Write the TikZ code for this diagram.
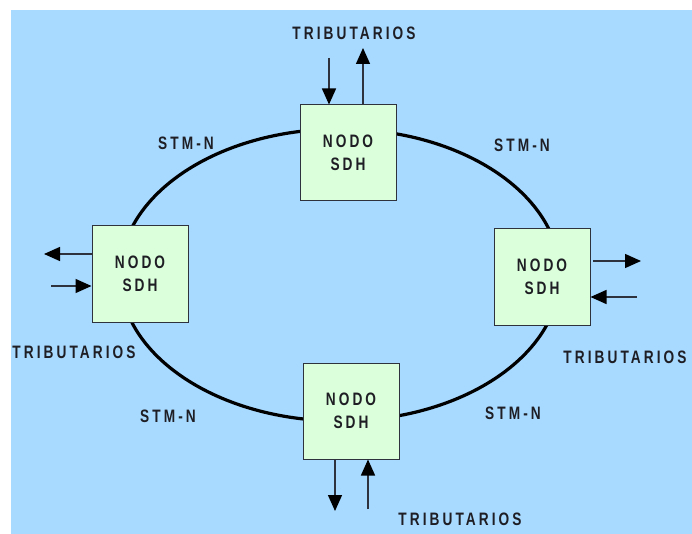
\documentclass[tikz,border=0pt]{standalone}
\usepackage{fontspec}
\setmainfont{Liberation Sans}[FakeStretch=0.76,LetterSpace=17]
\usetikzlibrary{arrows.meta}
\definecolor{bgblue}{RGB}{168,217,255}
\definecolor{boxgreen}{RGB}{218,255,218}
\definecolor{txtgray}{RGB}{30,30,36}
\definecolor{linegray}{RGB}{45,50,60}
\tikzset{
  nodobox/.style={draw=linegray,line width=1pt,fill=boxgreen,minimum width=96pt,minimum height=96pt,inner sep=0pt,align=center,text=txtgray,font=\bfseries\fontsize{18}{23}\selectfont},
  lbl/.style={inner sep=0pt,text=txtgray,font=\bfseries\fontsize{18}{20}\selectfont},
  arr/.style={draw=linegray,line width=1.4pt,-{Triangle[length=16pt,width=14pt,color=black]}},
  ring/.style={line width=3.2pt,black}
}
\begin{document}
\begin{tikzpicture}[x=1pt,y=-1pt]
\useasboundingbox (0,0) rectangle (692,534);
\fill[white] (0,0) rectangle (692,534);
\fill[bgblue] (11,10) rectangle (692,534);
\coordinate (ctr) at (340,275);
\draw[ring] (ctr) ellipse [x radius=220pt, y radius=146pt];
\node[nodobox] (top) at (348,153) {NODO\\SDH};
\node[nodobox] (left) at (140,274) {NODO\\SDH};
\node[nodobox] (right) at (542,277) {NODO\\SDH};
\node[nodobox] (bot) at (351,411) {NODO\\SDH};
% top tributaries
\coordinate (t1) at (329,58);
\coordinate (t2) at (363,48);
\draw[arr] (t1) -- (t1 |- top.north);
\draw[arr] (t2 |- top.north) -- (t2);
% left tributaries
\coordinate (l1) at (44,254);
\coordinate (l2) at (51,286);
\draw[arr] (l1 -| left.west) -- (l1);
\draw[arr] (l2) -- (l2 -| left.west);
% right tributaries
\coordinate (r1) at (641,261);
\coordinate (r2) at (637,297);
\draw[arr] (593,261) -- (r1);
\draw[arr] (r2) -- (r2 -| right.east);
% bottom tributaries
\coordinate (b1) at (335,511);
\coordinate (b2) at (368,509);
\draw[arr] (b1 |- bot.south) -- (b1);
\draw[arr] (b2) -- (b2 |- bot.south);
% labels
\node[lbl] (tribT) at (354,33) {TRIBUTARIOS};
\node[lbl] (tribL) at (74,352) {TRIBUTARIOS};
\node[lbl] (tribR) at (625,357) {TRIBUTARIOS};
\node[lbl] (tribB) at (460,519) {TRIBUTARIOS};
\node[lbl] (stm1) at (186,143) {STM-N};
\node[lbl] (stm2) at (522,145) {STM-N};
\node[lbl] (stm3) at (168,416) {STM-N};
\node[lbl] (stm4) at (513,413) {STM-N};
\end{tikzpicture}
\end{document}
